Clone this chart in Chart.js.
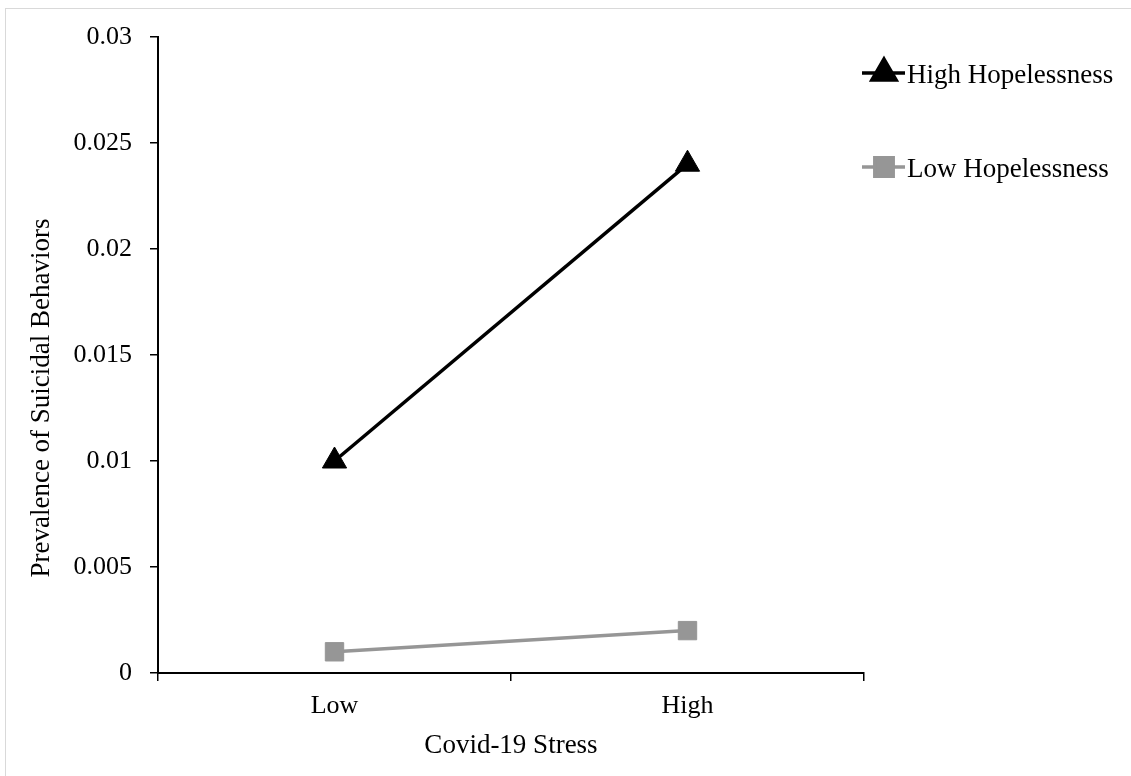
<!DOCTYPE html>
<html lang="en">
    <head>
        <meta charset="UTF-8" />
        <title>Covid-19 Stress x Hopelessness</title>
        <script src="https://cdn.jsdelivr.net/npm/chart.js"></script>
        <style>
            html, body { margin: 0; padding: 0; background: #fff; }
            .frame { position: relative; width: 1131px; height: 776px; overflow: hidden; }
            .frame::before {
                content: ''; position: absolute; left: 5px; top: 8px; width: 1200px; height: 900px;
                border: 1px solid #d9d9d9; pointer-events: none;
            }
        </style>
    </head>
    <body>
        <div class="frame">
            <canvas id="chart" width="1131" height="776"></canvas>
        </div>

        <script>
            const categories = ['Low', 'High'];
            const highHopelessness = [0.010, 0.024];
            const lowHopelessness = [0.001, 0.002];
            const yTickLabels = ['0', '0.005', '0.01', '0.015', '0.02', '0.025', '0.03'];
            const xTitle = 'Covid-19 Stress';
            const yTitle = 'Prevalence of Suicidal Behaviors';

            const serif = '"Liberation Serif", "Times New Roman", serif';

            // legend drawn like Excel: short line with the marker on it
            const lineLegend = {
                id: 'lineLegend',
                afterDraw(chart) {
                    const ctx = chart.ctx;
                    const rows = [73, 167];
                    chart.data.datasets.forEach((ds, i) => {
                        const y = rows[i];
                        ctx.save();
                        ctx.strokeStyle = ds.borderColor;
                        ctx.lineWidth = ds.borderWidth;
                        ctx.beginPath();
                        ctx.moveTo(862, y);
                        ctx.lineTo(905, y);
                        ctx.stroke();
                        ctx.fillStyle = ds.pointBackgroundColor;
                        ctx.strokeStyle = ds.pointBackgroundColor;
                        Chart.helpers.drawPoint(ctx, {
                            pointStyle: ds.pointStyle,
                            radius: ds.pointRadius,
                            rotation: 0,
                            borderWidth: 1
                        }, 884, y);
                        ctx.fillStyle = '#000';
                        ctx.font = '27px ' + serif;
                        ctx.textBaseline = 'middle';
                        ctx.textAlign = 'left';
                        ctx.fillText(ds.label, 907, y + 3);
                        ctx.restore();
                    });
                }
            };

            // y title placed where the original sits (a bit below the axis centre)
            const yTitlePlugin = {
                id: 'yTitle',
                afterDraw(chart) {
                    const ctx = chart.ctx;
                    ctx.save();
                    ctx.translate(42, 398);
                    ctx.rotate(-Math.PI / 2);
                    ctx.font = '27px ' + serif;
                    ctx.fillStyle = '#000';
                    ctx.textAlign = 'center';
                    ctx.textBaseline = 'middle';
                    ctx.fillText(yTitle, 0, 0);
                    ctx.restore();
                }
            };

            new Chart(document.getElementById('chart'), {
                type: 'line',
                data: {
                    labels: categories,
                    datasets: [
                        {
                            label: 'High Hopelessness',
                            data: highHopelessness,
                            borderColor: '#000000',
                            borderWidth: 3.5,
                            pointStyle: 'triangle',
                            pointRadius: 14,
                            pointBackgroundColor: '#000000',
                            pointBorderColor: '#000000',
                            pointBorderWidth: 1
                        },
                        {
                            label: 'Low Hopelessness',
                            data: lowHopelessness,
                            borderColor: '#969696',
                            borderWidth: 3.5,
                            pointStyle: 'rect',
                            pointRadius: 13,
                            pointBackgroundColor: '#969696',
                            pointBorderColor: '#969696',
                            pointBorderWidth: 1
                        }
                    ]
                },
                options: {
                    responsive: false,
                    animation: false,
                    layout: { padding: { top: 37, right: 267, left: 0, bottom: 0 } },
                    plugins: {
                        legend: { display: false },
                        tooltip: { enabled: false }
                    },
                    scales: {
                        x: {
                            offset: true,
                            grid: {
                                offset: true,
                                drawOnChartArea: false,
                                tickLength: 8,
                                color: '#000',
                                lineWidth: 1.5
                            },
                            border: { color: '#000', width: 2 },
                            ticks: { color: '#000', font: { family: serif, size: 26 }, padding: 10 },
                            title: {
                                display: true,
                                text: xTitle,
                                color: '#000',
                                font: { family: serif, size: 27 },
                                padding: { top: 4, bottom: 14 }
                            },
                            afterFit(scale) { scale.height = 103; }
                        },
                        y: {
                            min: 0,
                            max: 0.03,
                            grid: {
                                drawOnChartArea: false,
                                tickLength: 8,
                                color: '#000',
                                lineWidth: 1.5
                            },
                            border: { color: '#000', width: 2 },
                            ticks: {
                                stepSize: 0.005,
                                color: '#000',
                                padding: 18,
                                font: { family: serif, size: 26 },
                                callback: (v, i) => yTickLabels[i]
                            },
                            afterFit(scale) { scale.width = 158; }
                        }
                    }
                },
                plugins: [lineLegend, yTitlePlugin]
            });
        </script>
    </body>
</html>
